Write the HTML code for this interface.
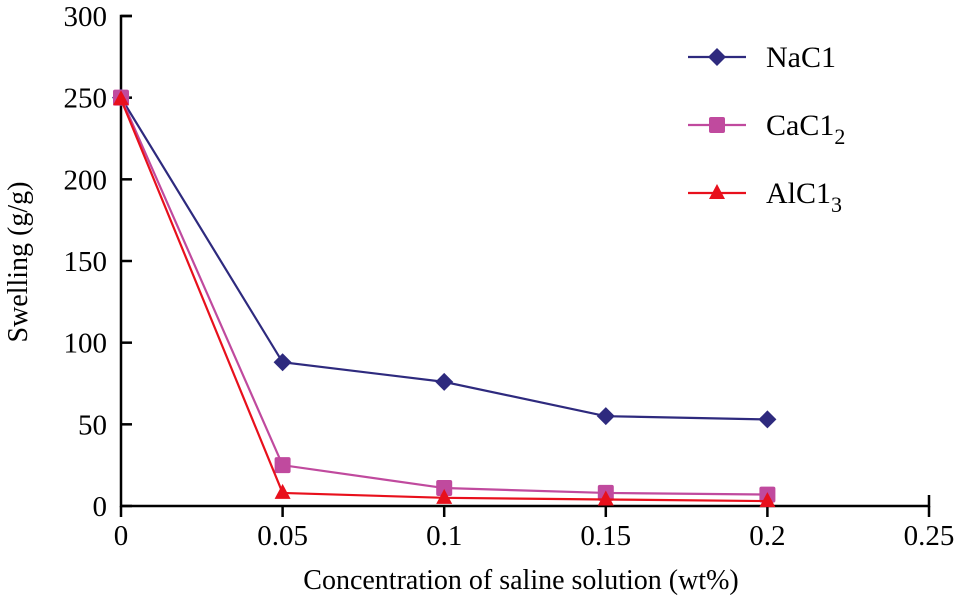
<!DOCTYPE html>
<html><head><meta charset="utf-8"><style>
body{margin:0;background:#fff}
svg{display:block}
text{font-family:"Liberation Serif","DejaVu Serif",serif}
</style></head><body>
<svg id="chart" width="958" height="598"></svg>
<script>
const categories=[0,0.05,0.1,0.15,0.2];
const nacl=[250,88,76,55,53];
const cacl2=[250,25,11,8,7];
const alcl3=[249,8,5,4,3];
const xTicks=["0","0.05","0.1","0.15","0.2","0.25"];
const xTickVals=[0,0.05,0.1,0.15,0.2,0.25];
const yTicks=[0,50,100,150,200,250,300];
const NS="http://www.w3.org/2000/svg";
const svg=document.getElementById('chart');
const X=v=>121+v/0.25*808;
const Y=v=>506-v/300*490;
const FF='"Liberation Serif", serif';
function mk(t,a,p){const e=document.createElementNS(NS,t);for(const k in a)e.setAttribute(k,a[k]);if(t==='text')e.setAttribute('font-family',FF);(p||svg).appendChild(e);return e;}
const ax=mk('path',{d:`M132 ${Y(300)} H121 V506 H${X(0.25)} V495`,fill:'none',stroke:'#000','stroke-width':2.5});


yTicks.forEach(v=>{
 const l=mk('line',{x1:121,x2:132,y1:Y(v),y2:Y(v),stroke:'#000','stroke-width':2.5});
 
 
 const t=mk('text',{x:107,y:Y(v)+10,'text-anchor':'end','font-size':29});t.textContent=v;
 
 
});
xTickVals.forEach((v,i)=>{
 const l=mk('line',{x1:X(v),x2:X(v),y1:506,y2:517,stroke:'#000','stroke-width':2.5});
 
 
 const t=mk('text',{x:X(v),y:545,'text-anchor':'middle','font-size':29});t.textContent=xTicks[i];
 
 
});
const xt=mk('text',{x:521,y:589,'text-anchor':'middle','font-size':28});xt.textContent='Concentration of saline solution (wt%)';


const yt=mk('text',{x:0,y:0,'text-anchor':'middle','font-size':28,transform:'translate(27,262) rotate(-90)'});yt.textContent='Swelling (g/g)';


function marker(type,x,y,c,g){
 let e;
 if(type==='d')e=mk('path',{d:`M${x} ${y-9}L${x+9} ${y}L${x} ${y+9}L${x-9} ${y}Z`,fill:c},g);
 else if(type==='s')e=mk('rect',{x:x-8,y:y-8,width:16,height:16,rx:2,fill:c},g);
 else e=mk('path',{d:`M${x} ${y-9}L${x+8} ${y+6}L${x-8} ${y+6}Z`,fill:c},g);
 
 
}
const series=[[nacl,'#2e2a7e','d','NaC1',''],[cacl2,'#c04a9e','s','CaC1','2'],[alcl3,'#e8101c','t','AlC1','3']];
series.forEach((s,si)=>{
 const g=mk('g',{});
 
 
 const pts=categories.map((c,i)=>X(c)+','+Y(s[0][i])).join(' ');
 mk('polyline',{points:pts,fill:'none',stroke:s[1],'stroke-width':2.2},g);
 categories.forEach((c,i)=>marker(s[2],X(c),Y(s[0][i]),s[1],g));
 const ly=57+si*68;
 const lg=mk('g',{});
 
 
 mk('line',{x1:688,x2:746,y1:ly,y2:ly,stroke:s[1],'stroke-width':2.2},lg);
 marker(s[2],717,ly,s[1],lg);
 const t=mk('text',{x:766,y:ly+10,'font-size':30},lg);t.textContent=s[3];
 if(s[4]){const sb=mk('tspan',{dy:9,'font-size':22},t);sb.textContent=s[4];}
});
</script>
</body></html>
